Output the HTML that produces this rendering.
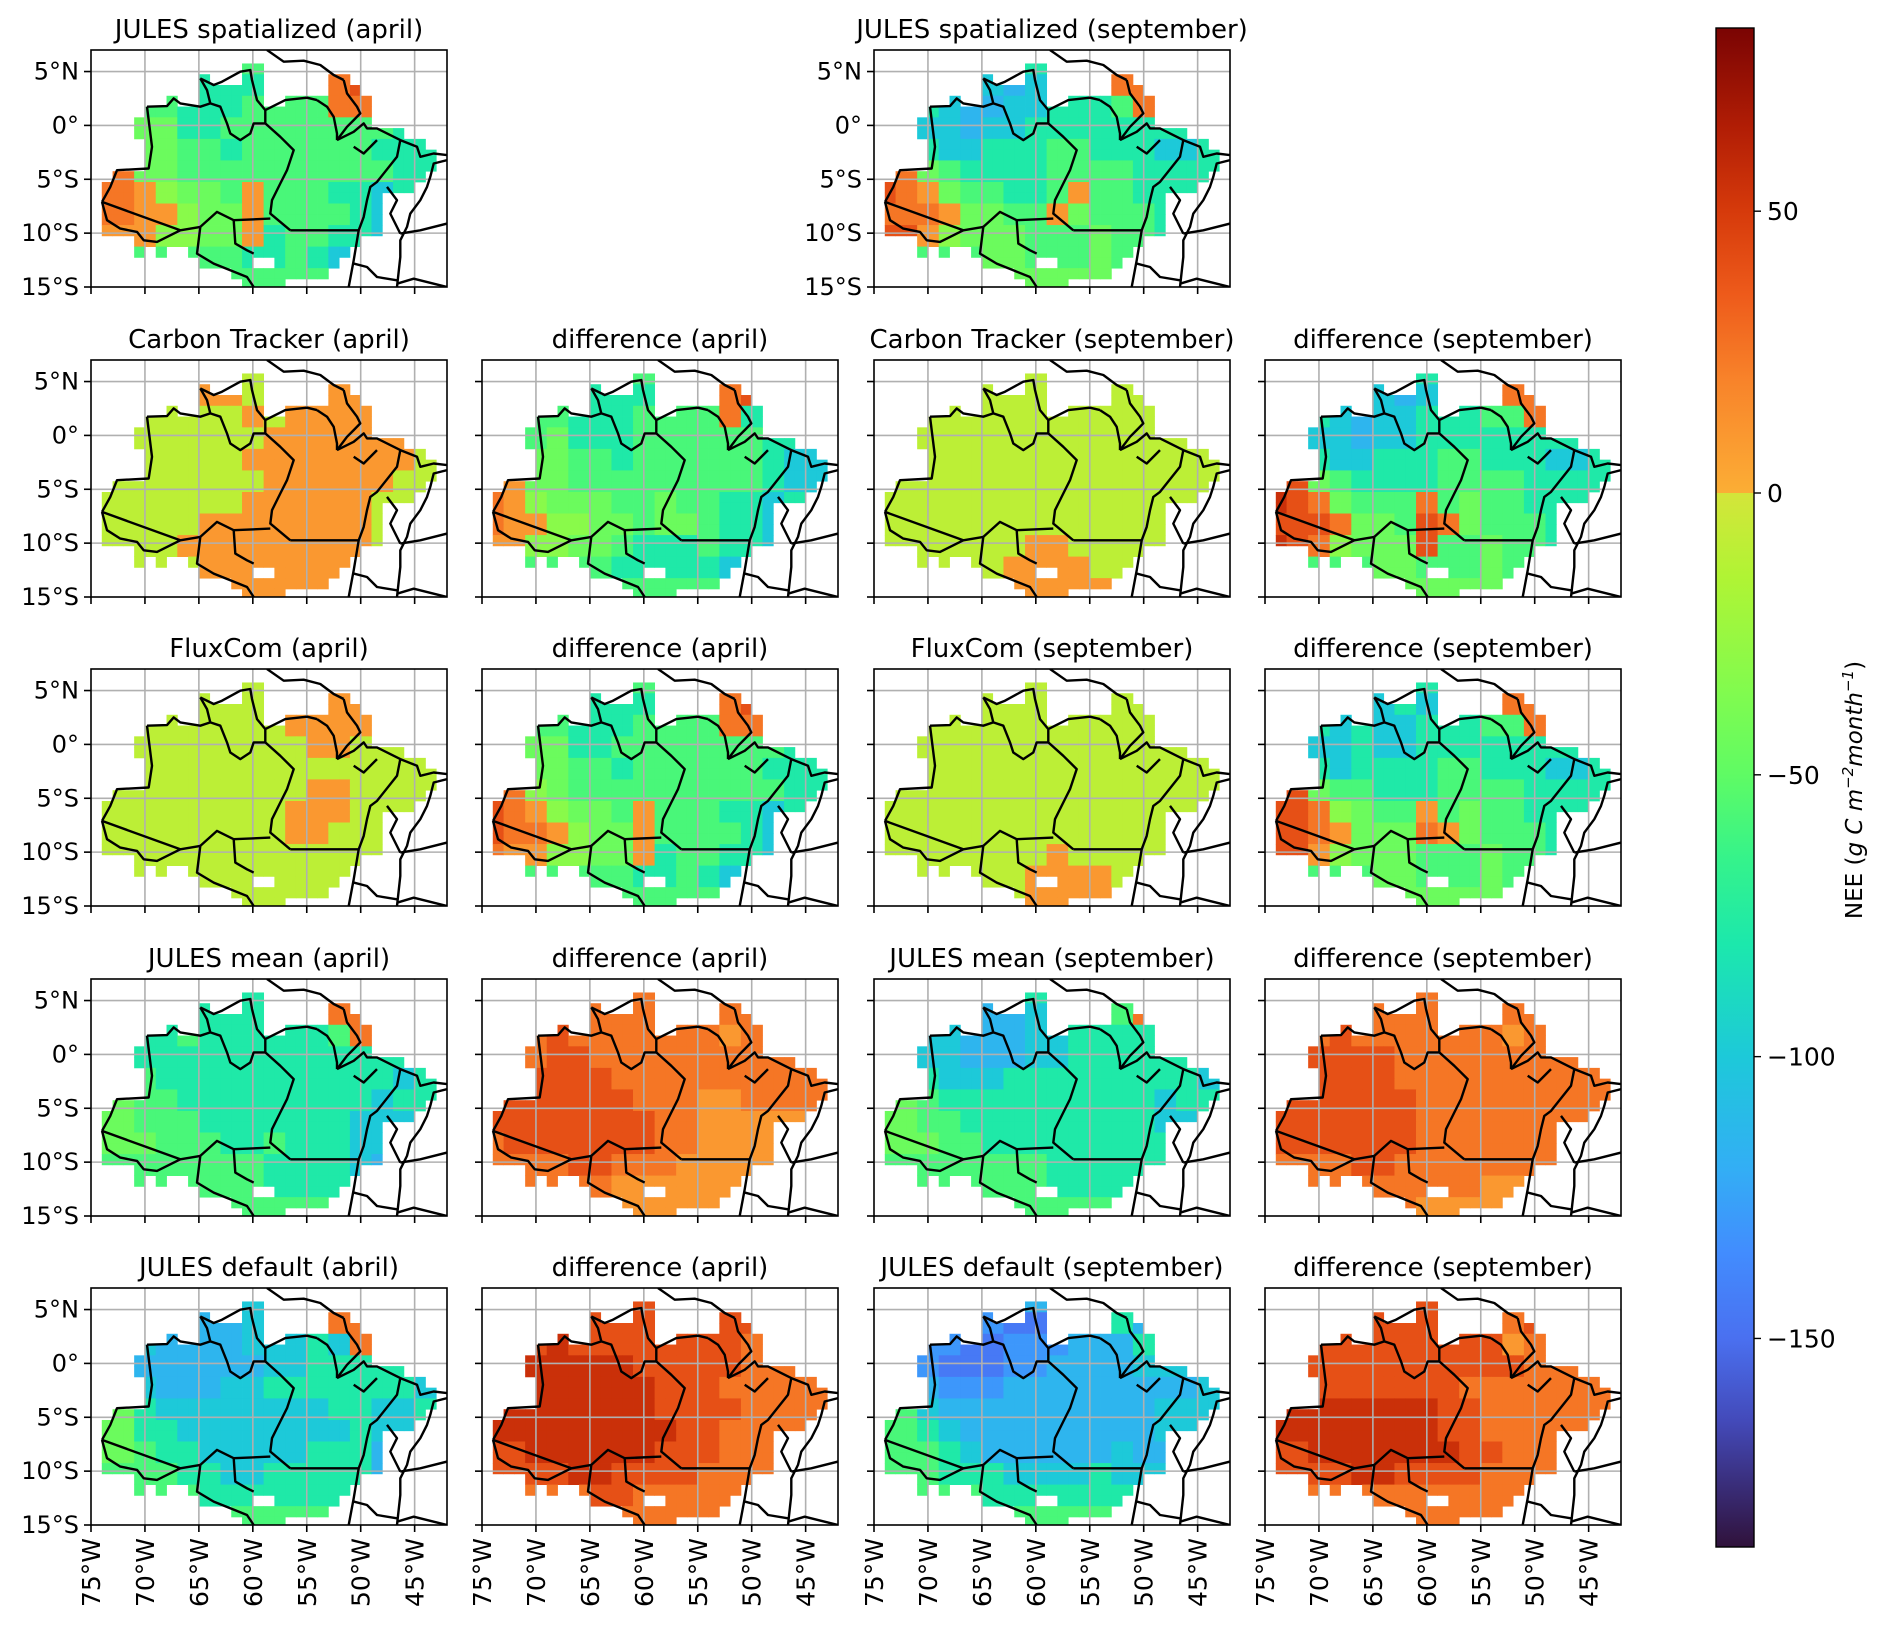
<!DOCTYPE html>
<html><head><meta charset="utf-8">
<style>
html,body{margin:0;padding:0;background:#fff;}
svg{display:block;font-family:"DejaVu Sans","Liberation Sans",sans-serif;}
</style></head>
<body>
<svg id="fig" width="1892" height="1628" viewBox="0 0 1892 1628" xmlns="http://www.w3.org/2000/svg">
<defs>
<linearGradient id="cbgrad" x1="0" y1="1" x2="0" y2="0"></linearGradient>
</defs>
</svg>
<script>
// ---- colour scale data ----
const levelKeys = "abcdefghijklmnopq";
const levelValues = [-175,-160,-145,-130,-115,-100,-78,-58,-45,-32,-20,-10,10,25,40,55,70];
const cbTicks = [50,0,-50,-100,-150];
const cbTickLabels = ["50","0","\u221250","\u2212100","\u2212150"];
const latTicks = [5,0,-5,-10,-15];
const latLabels = ["5\u00b0N","0\u00b0","5\u00b0S","10\u00b0S","15\u00b0S"];
const lonTicks = [-75,-70,-65,-60,-55,-50,-45];
const lonLabels = ["75\u00b0W","70\u00b0W","65\u00b0W","60\u00b0W","55\u00b0W","50\u00b0W","45\u00b0W"];
const titles = [
 ["JULES spatialized (april)",null,"JULES spatialized (september)",null],
 ["Carbon Tracker (april)","difference (april)","Carbon Tracker (september)","difference (september)"],
 ["FluxCom (april)","difference (april)","FluxCom (september)","difference (september)"],
 ["JULES mean (april)","difference (april)","JULES mean (september)","difference (september)"],
 ["JULES default (abril)","difference (april)","JULES default (september)","difference (september)"]
];
// land mask: per 1-degree row, column ranges
const maskRows = [[],[[14,15]],[[10,10],[14,15],[22,23]],[[10,15],[22,24]],[[7,7],[10,15],[18,25]],[[5,25]],[[4,25]],[[4,28]],[[5,30]],[[5,31]],[[5,31]],[[2,30]],[[1,29]],[[1,26]],[[1,26]],[[1,26]],[[1,26]],[[4,24]],[[4,4],[6,6],[9,23]],[[10,14],[17,22]],[[13,21]],[[14,17]]];
// value grids (2-degree blocks, level letters)
const m1=["hhhhhhhhhhhhhhhhh","hhhhhggghhhnohhhh","hhhhggghhhhnnghhh","hhiigghhhhhhhhggh","iiiihhghhhhhhgggh","nniihhhhhhhhhhggg","nnmjiihmhhhggfggg","nnmmjiimhhhhgffhh","mmmjjiimghhggffhh","hhhhhhhgghgffghhh","hhhhhhhhhhhhhhhhh"];
const m2=["ggggggggggggggggg","gggggfeffggnnhggg","gggfeeffggghngggg","ggffeffgggggggggg","hhgffggghhgggffgg","nnihgggghhhhggggg","onmihhgghmhhgggff","nnnmiihhmihhhgggh","oomjiiihhhihhgggg","hhhhhiihhhihhgggh","hhhhhhiiiiihhhhhh"];
const m3=["lllllllllllllllll","lllllmmllllmmmlll","lllllllmlmmmmmlll","llllllllmmmmmmmll","lllllllmmmmmmmmll","llllllllmmmmmmlll","lllllllmmmmmmllll","lllllmmmmmmmmllll","llllmmmmmmmmmllll","lllllmmmmmmmmllll","llllllmmmmmllllll"];
const m4=["hhhhhhhhhhhhhhhhh","hhhhhgggghhnohhhh","hhhhggghhhhnggggh","hhhiggghhhhhhgggh","iiiihhghhhhhhgffh","nmiihhhhhhhhhgffg","nmjiiihhihhggfggg","nmmjjiihiihggffhh","mmjjiihggghggffhh","hhhhhhgggggffghhh","hhhhhhhhhhhhhhhhh"];
const m5=["lllllllllllllllll","lllllllllllllllll","lllllllllllllllll","lllllllllllllllll","lllllllllllllllll","lllllllllllllllll","lllllllllllllllll","lllllllllllllllll","lllllllmmllllllll","llllllmmmmlllllll","llllllmmmmmllllll"];
const m6=["ggggggggggggggggg","gggggfeffggnnhggg","gggfeffggghhngggg","ggffeffgggggggggg","hhgffggghhgggffgg","ooihgggghhhhggggg","ponihhhnhihhgggff","oooniihonihhhgggh","ponjiiiohhihhgggg","hhhhhiihhhihhgggh","hhhhhhiiiiihhhhhh"];
const m7=["lllllllllllllllll","lllllllllmmmmllll","lllllllllmmmmllll","llllllllllmmlllll","lllllllllllllllll","llllllllllmmlllll","lllllllllmmmlllll","lllllllllmmllllll","lllllllllllllllll","lllllllllllllllll","lllllllllllllllll"];
const m8=["hhhhhhhhhhhhhhhhh","hhhhhggghhhnohhhh","hhhhggghhhhnnghhh","hhiigghhhhhhhhggh","iiiihhghhhhhhgggh","onjihhhhhhhhhhggg","onmjiihmhhhggfggg","onnmjiimhhhhgffhh","nmmjjiimghhggffhh","hhhhhhhgghgffghhh","hhhhhhhhhhhhhhhhh"];
const m9=["lllllllllllllllll","lllllllllllllllll","lllllllllllllllll","lllllllllllllllll","lllllllllllllllll","lllllllllllllllll","lllllllllllllllll","lllllllllllllllll","llllllllmllllllll","lllllllmmmmllllll","lllllllmmmmmlllll"];
const m10=["ggggggggggggggggg","gggggfgffggnnhggg","gggfgffggghhngggg","ggffgffgggggggggg","hhgfgggghhgggffgg","ooihhggghhhhggggg","oonjihhmhihhgggff","oonmiiinmihhhgggh","oomjiiihhhihhgggg","hhhhhiihhhihhgggh","hhhhhhiiiiihhhhhh"];
const m11=["ggggggggggggggggg","gggggggggggnnhggg","gggghgggggghngggg","hhggggggggggggggg","hhhgggggggggggfgg","iihhgggggggggfggg","iihhhgggggggfffgg","iiihhhgghgggfffhh","hhhhhhhhggggfeggg","hhhhhhhhggggfgggg","hhhhhhhhhhhhhhhhh"];
const m12=["nnnnnnnnnnnnnnnnn","nnnnnnnnnnnnnnnnn","nnnonnnnnnnmnnnnn","nnnoonnnnnnnnnnnn","nooooonnnnnnnnnnn","noooooonnnmmnnnnn","oooooooonnmmmmmnn","nooooooonnmmmmnnn","nnnnoonnnmmmmmnnn","nnnnnnmmmmmmmmnnn","nnnnnnmmmmmmmnnnn"];
const m13=["ggggggggggggggggg","gggggeefggghngggg","ggffeeeffgggggggg","gfffeeeffgggggggg","hhgfffgggggggggfg","iihggggggggggfggg","iihhgggggggggffgg","iiihhgggggggggggg","hhhhhhhhggggggggg","hhhhhhhhggggggggg","hhhhhhhhhhhhhhhhh"];
const m14=["nnnnnnnnnnnnnnnnn","nnnnnnnnnnnnnnnnn","nnnonnnnnnnmnnnnn","nnoooonnnnnnnnnnn","nooooonnnnnnnnnnn","ooooooonnnnnnnnnn","ooooooonnnnnnnnnn","ooooooonnnnnnnnnn","nnnnoonnnnnnnnnnn","nnnnnnnnnnmmmnnnn","nnnnnnnmmmmmmnnnn"];
const m15=["fffffffffffffffff","fffffeeffffnnffff","fffeeeefffgfngggg","ffeeeeeeffggggggg","gffeeeffgggggggff","iigffffffffggffgg","iiggffffffffgffgg","iihggfffffgggeegg","hhhhggffgggggeegg","hhhhhgggggggggggg","hhhhhhhhhhhhhhhhh"];
const m16=["ooooooooooooooooo","ooooooooooooooooo","ooopoooooooonoooo","oopppppooooonnnoo","opppppppooonnnnnn","opppppppoooonnnnn","pppppppppoonnnnnn","ooppppppooonnnnnn","ooooppoooonnnnnnn","nnnnnoonnnnnnnnnn","nnnnnnnnnnnnnnnnn"];
const m17=["eeeeeeeeeeeeeeeee","eeeeedccdeegeeeee","eeddccdddeeegffff","eedcccddeeeefffff","ffedddeeeeeeeeeff","hhfeeeeeeeeeeffff","hhgfeeeeeeeeefffg","hhhgfeeeeeefeeegg","hhhgggffffgffffgg","hhhhhgggggggggggg","hhhhhhhhhhhhhhhhh"];
const m18=["ooooooooooooooooo","ooooooooooonooooo","ooooooooooomnoooo","oooooooooooonnnoo","ooooooooonnnnnnnn","ppppppppoonnnnnnn","ppppppppoonnnnnnn","oopppppppoonnnnnn","ooooppoooonnnnnnn","nnnnnnnnnnnnnnnnn","nnnnnnnnnnnnnnnnn"];
const grids = [[m1,null,m2,null],[m3,m4,m5,m6],[m7,m8,m9,m10],[m11,m12,m13,m14],[m15,m16,m17,m18]];
// borders in panel-fraction zoom coords (X 272..1340, Y 150..860)
const borders = [
 [[800,150],[850,185],[910,182],[960,195],[1000,225],[1030,240]],
 [[795,330],[855,300],[920,293],[950,300]],
 [[1030,240],[1040,280],[1070,320],[1080,340],[1060,360],[1040,380],[1010,420]],
 [[950,300],[980,320],[1000,350],[1010,400],[1010,420]],
 [[1010,420],[1060,395],[1090,370],[1100,385],[1130,385],[1200,420],[1250,440],[1260,470],[1300,460],[1340,465]],
 [[1060,440],[1090,460],[1130,420]],
 [[1200,420],[1190,470],[1130,545],[1110,560],[1100,600],[1090,650],[1075,690],[1060,780],[1045,860]],
 [[1340,480],[1300,490],[1290,530],[1280,560],[1260,600],[1230,640],[1220,680],[1200,720],[1200,770],[1190,860]],
 [[1160,560],[1190,600],[1170,640],[1200,700]],
 [[1200,700],[1260,690],[1340,670]],
 [[1060,790],[1100,800],[1130,830],[1190,840]],
 [[1190,850],[1240,835],[1300,850],[1340,860]],
 [[870,690],[1075,690]],
 [[795,370],[840,410],[880,450],[860,510],[840,550],[815,600],[810,640],[870,690]],
 [[600,235],[640,255],[665,245],[720,215],[750,210],[755,240],[770,300],[795,330],[795,370]],
 [[600,235],[620,270],[630,310],[660,320],[680,370],[690,400],[720,420],[750,400],[760,370],[795,370]],
 [[440,320],[500,318],[520,295],[540,310],[600,320],[630,310]],
 [[440,320],[455,440],[445,505],[350,510],[330,560],[305,605]],
 [[305,605],[540,690],[600,680]],
 [[305,605],[320,660],[360,685],[410,695],[430,720],[470,725],[540,690]],
 [[600,680],[650,635],[700,660],[810,655]],
 [[600,680],[590,760],[640,790],[690,810],[740,830],[760,860]],
 [[700,660],[705,730],[740,750],[760,760]]
];
const cmapStops = [[-187,"#30123b"],[-165,"#4349b8"],[-150,"#4a70f0"],[-135,"#428cfe"],[-120,"#33aef5"],[-100,"#1dc9d9"],[-80,"#1ce8ac"],[-65,"#35f38b"],[-50,"#5ffb64"],[-35,"#82fb4e"],[-15,"#b0f434"],[-0.01,"#d4e53a"],[0,"#fbae35"],[5,"#fba333"],[20,"#f8832a"],[35,"#ee5b1b"],[50,"#d63a0b"],[65,"#b11d05"],[83,"#7a0403"]];

const NS="http://www.w3.org/2000/svg";
const svg=document.getElementById('fig');
function mk(tag,attrs,parent){const e=document.createElementNS(NS,tag);for(const k in attrs)e.setAttribute(k,attrs[k]);(parent||svg).appendChild(e);return e;}
function hex(h){return [parseInt(h.substr(1,2),16),parseInt(h.substr(3,2),16),parseInt(h.substr(5,2),16)];}
function color(v){
 if(v<=cmapStops[0][0])return cmapStops[0][1];
 for(let i=1;i<cmapStops.length;i++){
  if(v<=cmapStops[i][0]){const a=cmapStops[i-1],b=cmapStops[i];const t=(v-a[0])/(b[0]-a[0]);const ca=hex(a[1]),cb=hex(b[1]);
   return "rgb("+ca.map((x,j)=>Math.round(x+(cb[j]-x)*t)).join(",")+")";}
 }
 return cmapStops[cmapStops.length-1][1];
}
const colX=[91,482,874,1265], rowY=[50,360,669,979,1288], PW=356, PH=237;
const LON0=-75, LON1=-42, LAT0=7, LAT1=-15;

for(let R=0;R<5;R++)for(let C=0;C<4;C++){
 const title=titles[R][C]; if(!title)continue;
 const grid=grids[R][C];
 const px=colX[C], py=rowY[R];
 const xs=lon=>px+(lon-LON0)/(LON1-LON0)*PW;
 const ys=lat=>py+(LAT0-lat)/(LAT0-LAT1)*PH;
 const g=mk('g',{});
 
 
 const cid='clip'+R+C;
 const cp=mk('clipPath',{id:cid},g); mk('rect',{x:px,y:py,width:PW,height:PH},cp);
 const cells=mk('g',{'clip-path':'url(#'+cid+')'},g);
 
 
 for(let r=0;r<maskRows.length;r++){
  for(const rg of maskRows[r]){
   for(let c=rg[0];c<=rg[1];c++){
    const ch=grid[Math.floor(r/2)][Math.floor(c/2)];
    const idx=levelKeys.indexOf(ch); if(idx<0)continue;
    const v=levelValues[idx];
    const latTop=6.75-r, lon=LON0+c;
    const x0=xs(lon), x1=xs(lon+1), y0=ys(latTop), y1=ys(latTop-1);
    const rc=mk('rect',{x:x0.toFixed(2),y:y0.toFixed(2),width:(x1-x0+0.4).toFixed(2),height:(y1-y0+0.4).toFixed(2),fill:color(v)},cells);
    
    
   }
  }
 }
 const gl=mk('g',{stroke:'#b0b0b0','stroke-width':1.6},g);
 
 
 lonTicks.forEach(l=>{if(l>LON0)mk('line',{x1:xs(l),x2:xs(l),y1:py,y2:py+PH},gl);});
 latTicks.forEach(l=>{if(l>LAT1)mk('line',{x1:px,x2:px+PW,y1:ys(l),y2:ys(l)},gl);});
 const bg=mk('g',{'clip-path':'url(#'+cid+')',fill:'none',stroke:'#000','stroke-width':2.4,'stroke-linejoin':'round'},g);
 
 
 borders.forEach(b=>{
  const pts=b.map(p=>(px+(p[0]-272)/1068*PW).toFixed(1)+","+(py+(p[1]-150)/710*PH).toFixed(1)).join(" ");
  mk('polyline',{points:pts},bg);
 });
 const fr=mk('rect',{x:px,y:py,width:PW,height:PH,fill:'none',stroke:'#000','stroke-width':1.6},g);
 
 
 const tk=mk('g',{stroke:'#000','stroke-width':1.6},g);
 lonTicks.forEach(l=>mk('line',{x1:xs(l),x2:xs(l),y1:py+PH,y2:py+PH+7},tk));
 latTicks.forEach(l=>mk('line',{x1:px-7,x2:px,y1:ys(l),y2:ys(l)},tk));
 const t=mk('text',{x:px+PW/2,y:py-12,'text-anchor':'middle','font-size':26,fill:'#000'},g);
 t.textContent=title;
 
 
 if(C===0||R===0){
  latTicks.forEach((l,i)=>{
   const lt=mk('text',{x:px-12,y:ys(l)+8,'text-anchor':'end','font-size':24,fill:'#000'},g);
   lt.textContent=latLabels[i];
   
   
  });
 }
 if(R===4){
  lonTicks.forEach((l,i)=>{
   const xt=mk('text',{x:xs(l)+9,y:py+PH+13,'text-anchor':'end','font-size':25,fill:'#000',transform:'rotate(-90 '+(xs(l)+9)+' '+(py+PH+13)+')'},g);
   xt.textContent=lonLabels[i];
   
   
  });
 }
}
// colorbar
const VMIN=-187, VMAX=82.5, CBX=1716, CBW=38, CBY0=28, CBY1=1547;
const cy=v=>CBY0+(VMAX-v)/(VMAX-VMIN)*(CBY1-CBY0);
const grad=document.getElementById('cbgrad');
cmapStops.forEach(s=>{const o=(s[0]-VMIN)/(VMAX-VMIN);mk('stop',{offset:Math.max(0,Math.min(1,o)).toFixed(5),'stop-color':s[1]},grad);});
const cb=mk('g',{});


mk('rect',{x:CBX,y:CBY0,width:CBW,height:CBY1-CBY0,fill:'url(#cbgrad)',stroke:'#000','stroke-width':1.4},cb);
cbTicks.forEach((v,i)=>{
 mk('line',{x1:CBX+CBW,x2:CBX+CBW+7,y1:cy(v),y2:cy(v),stroke:'#000','stroke-width':1.4},cb);
 const tt=mk('text',{x:CBX+CBW+13,y:cy(v)+9,'font-size':25,fill:'#000'},cb);
 tt.textContent=cbTickLabels[i];
 
 
});
const lab=mk('text',{x:1862,y:790,'text-anchor':'middle','font-size':23,fill:'#000',transform:'rotate(-90 1862 790)'},cb);


lab.innerHTML='NEE (<tspan font-style="italic">g C m</tspan><tspan font-style="italic" font-size="15" dy="-9">\u22122</tspan><tspan font-style="italic" dy="9">month</tspan><tspan font-style="italic" font-size="15" dy="-9">\u22121</tspan><tspan dy="9">)</tspan>';
</script>
</body></html>
